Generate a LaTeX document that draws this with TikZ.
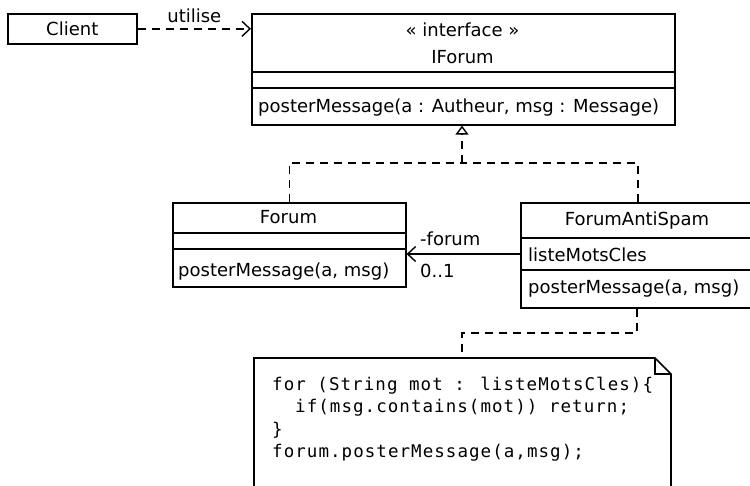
\documentclass[tikz,border=0pt]{standalone}
\usepackage{fontspec}
\setmainfont{DejaVu Sans}
\newfontfamily\codefont[LetterSpace=6]{DejaVu Sans Mono}
\usetikzlibrary{arrows.meta}
\begin{document}
\begin{tikzpicture}[x=1pt,y=-1pt,
  comp/.style={draw, line width=1.6pt, inner sep=0pt, anchor=north west},
  txt/.style={inner sep=0pt, font=\fontsize{18}{21}\selectfont},
  code/.style={inner sep=0pt, anchor=base west, font=\codefont\fontsize{17.5}{20}\selectfont},
  dashline/.style={line width=1.4pt, dash pattern=on 8pt off 6pt},
  openarrow/.style={-{Straight Barb[length=8pt,width=15pt,line width=1.4pt]}},
  hollowtri/.style={-{Triangle[open,length=9pt,width=13pt,line width=1.4pt]}}
]
\useasboundingbox (0,0) rectangle (750,485);
\clip (0,0) rectangle (750,485);

% Client
\node[comp, minimum width=129pt, minimum height=30pt] (client) at (7,13) {};
\node[txt] (clienttxt) at (client.center) {Client};

% IForum
\node[comp, minimum width=423pt, minimum height=58pt] (ifname) at (251,13) {};
\node[comp, minimum width=423pt, minimum height=16pt] (ifattr) at (251,71) {};
\node[comp, minimum width=423pt, minimum height=37pt] (ifmeth) at (251,87) {};
\node[txt, anchor=base] (ifstereo) at (462.5,36) {« interface »};
\node[txt, anchor=base] (iftitle) at (462.5,63) {IForum};
\node[txt, anchor=base west] (ifop) at (258,112) {posterMessage(a : Autheur, msg : Message)};

% Forum
\node[comp, minimum width=233pt, minimum height=30pt] (fname) at (172,202) {};
\node[comp, minimum width=233pt, minimum height=16pt] (fattr) at (172,232) {};
\node[comp, minimum width=233pt, minimum height=38pt] (fmeth) at (172,248) {};
\node[txt, anchor=base] (ftitle) at (288.5,223) {Forum};
\node[txt, anchor=base west] (fop) at (178,276) {posterMessage(a, msg)};

% ForumAntiSpam
\node[comp, minimum width=234pt, minimum height=35pt] (aname) at (520,202) {};
\node[comp, minimum width=234pt, minimum height=32pt] (aattr) at (520,237) {};
\node[comp, minimum width=234pt, minimum height=38pt] (ameth) at (520,269) {};
\node[txt, anchor=base] (atitle) at (637,225) {ForumAntiSpam};
\node[txt, anchor=base west] (aatt) at (528,261) {listeMotsCles};
\node[txt, anchor=base west] (aop) at (528,293) {posterMessage(a, msg)};

% Note
\draw[line width=1.6pt] (254,495) -- (254,358) -- (655,358) -- (671,374) -- (671,495);
\draw[line width=1.6pt] (655,358) -- (655,374) -- (671,374);
\coordinate (notetop) at (462,358);
\node[code] (c1) at (272,390) {for (String mot : listeMotsCles)\{};
\node[code] (c2) at (295,412.5) {if(msg.contains(mot)) return;};
\node[code] (c3) at (272,435) {\}};
\node[code] (c4) at (272,457.5) {forum.posterMessage(a,msg);};

% Connectors
\draw[dashline, openarrow] (client.east) -- (client.east -| ifname.west)
  node[txt, midway, above=5pt] (utilise) {utilise};
\coordinate (g) at (462,163);
\draw[dashline] (fname.north) |- (g);
\draw[dashline] (aname.north) |- (g);
\draw[dashline, hollowtri] (g) -- (g |- ifmeth.south);
\coordinate (assoc) at (520,254);
\draw[line width=1.4pt, openarrow] (assoc) -- (assoc -| fmeth.east);
\node[txt, anchor=base west] (role) at (420,245) {-forum};
\node[txt, anchor=base west] (mult) at (420,277) {0..1};
\coordinate (n) at (462,333);
\draw[dashline] (ameth.south -| 637,0) |- (n) -- (notetop);
\end{tikzpicture}
\end{document}
